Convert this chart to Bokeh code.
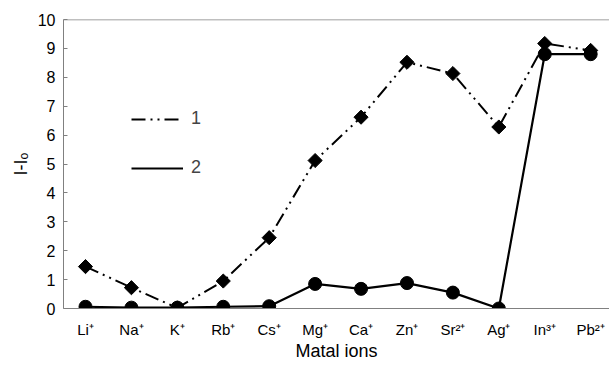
import math
from bokeh.plotting import figure
from bokeh.models import Range1d, FixedTicker, Span, Legend, LegendItem
from bokeh.embed import file_html
from bokeh.resources import INLINE

ions = ["Li⁺", "Na⁺", "K⁺", "Rb⁺", "Cs⁺", "Mg⁺", "Ca⁺", "Zn⁺", "Sr²⁺", "Ag⁺", "In³⁺", "Pb²⁺"]
series1 = [1.45, 0.72, 0.02, 0.95, 2.45, 5.12, 6.62, 8.52, 8.13, 6.28, 9.17, 8.93]
series2 = [0.06, 0.03, 0.03, 0.06, 0.08, 0.85, 0.68, 0.88, 0.55, 0.0, 8.8, 8.8]
y_ticks = list(range(0, 11))

x = list(range(len(ions)))
FONT = "Liberation Sans"
GRAY = "#808080"

p = figure(width=609, height=364, output_backend="svg", toolbar_location=None,
           x_range=Range1d(-0.479, 11.41), y_range=Range1d(0, 10))
p.min_border_left = 63
p.min_border_right = 0
p.min_border_top = 19
p.min_border_bottom = 56
p.outline_line_color = None
p.xgrid.visible = False
p.ygrid.visible = False
p.background_fill_color = "white"
p.border_fill_color = "white"

p.xaxis.ticker = FixedTicker(ticks=x)
p.xaxis.major_label_overrides = {i: s for i, s in enumerate(ions)}
p.yaxis.ticker = FixedTicker(ticks=y_ticks)

for ax in (p.xaxis[0], p.yaxis[0]):
    ax.axis_line_color = GRAY
    ax.axis_line_width = 1
    ax.minor_tick_line_color = None
    ax.major_label_text_font = FONT
    ax.major_label_text_color = "black"
    ax.axis_label_text_font = FONT
    ax.axis_label_text_font_style = "normal"
    ax.axis_label_text_color = "black"

p.xaxis.major_tick_line_color = None
p.xaxis.major_tick_in = 0
p.xaxis.major_tick_out = 0
p.xaxis.major_label_text_font_size = "15px"
p.xaxis.major_label_standoff = 12
p.xaxis.axis_label = "Matal ions"
p.xaxis.axis_label_text_font_size = "18px"
p.xaxis.axis_label_standoff = 0

p.yaxis.major_tick_line_color = GRAY
p.yaxis.major_tick_in = 4
p.yaxis.major_tick_out = 0
p.yaxis.major_label_text_font_size = "16px"
p.yaxis.major_label_standoff = 8
p.yaxis.axis_label = "I-Iₒ"
p.yaxis.axis_label_text_font_size = "18px"
p.yaxis.axis_label_standoff = 4

p.add_layout(Span(location=10, dimension="width", line_color=GRAY, line_width=1.5))

l1 = p.line(x, series1, line_color="black", line_width=2, line_dash="14 5 2 5 2 5")
p.scatter(x, series1, marker="square", angle=math.pi / 4, size=10,
          fill_color="black", line_color="black")
l2 = p.line(x, series2, line_color="black", line_width=2.2)
p.scatter(x, series2, marker="circle", size=13, fill_color="black", line_color="black")

legend = Legend(items=[LegendItem(label="1", renderers=[l1]),
                       LegendItem(label="2", renderers=[l2])],
                location=(68, 130), orientation="vertical")
legend.glyph_width = 52
legend.glyph_height = 20
legend.spacing = 28
legend.padding = 0
legend.margin = 0
legend.border_line_color = None
legend.background_fill_alpha = 0
legend.label_text_font = FONT
legend.label_text_font_size = "18px"
legend.label_standoff = 8
p.add_layout(legend)

open("out.html", "w").write(file_html(p, INLINE))
